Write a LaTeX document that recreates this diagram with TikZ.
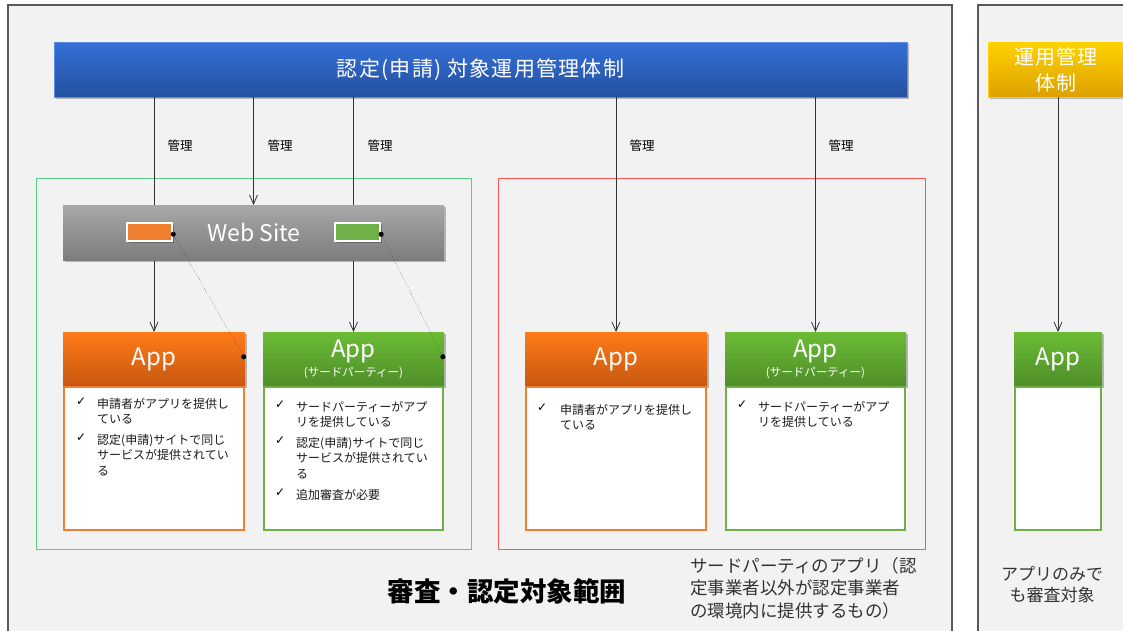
\documentclass[tikz,border=0pt]{standalone}
\usepackage{fontspec}
\setmainfont{Noto Sans CJK JP}
\newfontfamily\symfont{DejaVu Sans}
\newfontfamily\widefont[LetterSpace=6]{Noto Sans CJK JP}
\usetikzlibrary{arrows.meta,shadows}
\definecolor{panelbg}{HTML}{F2F2F2}
\definecolor{panelline}{HTML}{595959}
\definecolor{blueT}{HTML}{3470D8}
\definecolor{blueB}{HTML}{2450A0}
\definecolor{yellowT}{HTML}{FFD200}
\definecolor{yellowB}{HTML}{DDA000}
\definecolor{orangeT}{HTML}{FF7A18}
\definecolor{orangeB}{HTML}{C85810}
\definecolor{orangeL}{HTML}{F08030}
\definecolor{greenT}{HTML}{6CBC36}
\definecolor{greenB}{HTML}{4E8E28}
\definecolor{greenL}{HTML}{70B048}
\definecolor{grayT}{HTML}{A8A8A8}
\definecolor{grayB}{HTML}{7C7C7C}
\definecolor{frameG}{HTML}{5CCB88}
\definecolor{frameR}{HTML}{FF5555}
\definecolor{txt}{HTML}{1A1A1A}
\definecolor{subtxt}{HTML}{333333}
\tikzset{
  box/.style={rectangle, inner sep=0pt, outer sep=0pt},
  shad/.style={drop shadow={shadow xshift=1.5pt, shadow yshift=-1.5pt, opacity=0.25, fill=black}},
  bluebar/.style={box, shad, top color=blueT, bottom color=blueB, draw=blueT!80!white, text=white, font=\widefont\fontsize{21}{22}\selectfont},
  yellowbar/.style={box, shad, top color=yellowT, bottom color=yellowB, draw=yellowT},
  websitebox/.style={box, shad, top color=grayT, bottom color=grayB},
  tab/.style={box, draw=white, line width=2pt, minimum width=45pt, minimum height=18pt, shad},
  orangehead/.style={box, shad, top color=orangeT, bottom color=orangeB},
  greenhead/.style={box, shad, top color=greenT, bottom color=greenB},
  orangebody/.style={box, fill=white, draw=orangeL, line width=2pt},
  greenbody/.style={box, fill=white, draw=greenL, line width=2pt},
  apptitle/.style={text=white, inner sep=0pt, font=\fontsize{24}{26}\selectfont},
  appsub/.style={text=white, inner sep=0pt, font=\fontsize{11.5}{12}\selectfont},
  arr/.style={draw=black!80, line width=0.8pt, -{Straight Barb[length=9pt,width=8pt]}},
  lbl/.style={font=\fontsize{12.5}{14}\selectfont, text=black, inner sep=0pt},
  bul/.style={anchor=north west, inner sep=0pt, align=left, text=txt, font=\fontsize{12}{15.5}\selectfont},
  chk/.style={anchor=north west, inner sep=0pt, text=black, font=\symfont\fontsize{12}{15.5}\selectfont},
  link/.style={draw=black!75, line width=0.5pt, dotted, {Circle[length=5pt,black]}-{Circle[length=5pt,black]}},
}
\begin{document}
\begin{tikzpicture}[x=1pt,y=-1pt]
\clip (0,0) rectangle (1123,630);
\fill[white] (0,0) rectangle (1123,630);
% panels
\draw[fill=panelbg, draw=panelline, line width=1.5pt] (8,5) rectangle (952,660);
\draw[fill=panelbg, draw=panelline, line width=1.5pt] (978,5) rectangle (1160,660);
% frames
\draw[frameG, line width=0.8pt] (36,178) rectangle (471,549);
\draw[frameR, line width=0.8pt] (498,178) rectangle (925,549);
% top bars
\node[bluebar, minimum width=853pt, minimum height=55pt] (mgmt) at (480.5,69.5) {認定(申請) 対象運用管理体制};
\node[yellowbar, minimum width=140pt, minimum height=55pt] (ops) at (1058,69.5) {};
\node[text=white, align=center, inner sep=0pt, font=\widefont\fontsize{20}{26}\selectfont] (opstxt) at (1056,69.5) {運用管理\\体制};
% app headers
\node[orangehead, minimum width=182pt, minimum height=54pt] (appA) at (154,359) {};
\node[greenhead, minimum width=181pt, minimum height=54pt] (appB) at (353.5,359) {};
\node[orangehead, minimum width=182pt, minimum height=54pt] (appC) at (616,359) {};
\node[greenhead, minimum width=181pt, minimum height=54pt] (appD) at (815.5,359) {};
\node[greenhead, minimum width=88pt, minimum height=54pt] (appE) at (1058,359) {};
\node[apptitle] (tA) at (154,359) {App};
\node[apptitle] (tB) at (353.5,351) {App};
\node[appsub] (sB) at (353.5,373) {(サードパーティー)};
\node[apptitle] (tC) at (616,359) {App};
\node[apptitle] (tD) at (815.5,351) {App};
\node[appsub] (sD) at (815.5,373) {(サードパーティー)};
\node[apptitle] (tE) at (1058,359) {App};
% app bodies
\node[orangebody, minimum width=180pt, minimum height=143pt] (bA) at (154,458.5) {};
\node[greenbody, minimum width=179pt, minimum height=143pt] (bB) at (353.5,458.5) {};
\node[orangebody, minimum width=180pt, minimum height=143pt] (bC) at (616,458.5) {};
\node[greenbody, minimum width=179pt, minimum height=143pt] (bD) at (815.5,458.5) {};
\node[greenbody, minimum width=86pt, minimum height=143pt] (bE) at (1058,458.5) {};
% management lines
\draw[arr] (mgmt.south -| appA.north) -- (appA.north);
\draw[arr] (mgmt.south -| appB.north) -- (appB.north);
\draw[arr] (mgmt.south -| appC.north) -- (appC.north);
\draw[arr] (mgmt.south -| appD.north) -- (appD.north);
\draw[arr] (ops.south -| appE.north) -- (appE.north);
% website
\node[websitebox, minimum width=381pt, minimum height=55pt] (web) at (253.5,232.5) {};
\node[text=white, inner sep=0pt, font=\fontsize{23}{26}\selectfont] (webtxt) at (254,232) {Web Site};
\draw[arr] (mgmt.south -| web.north) -- (web.north);
\node[tab, fill=orangeL] (tabO) at (149.5,232) {};
\node[tab, fill=greenL] (tabG) at (357.5,232) {};
\draw[link] (tabO.east) -- (appA.east);
\draw[link] (tabG.east) -- (appB.east);
% labels
\node[lbl] (m1) at (180,146) {管理};
\node[lbl] (m2) at (280,146) {管理};
\node[lbl] (m3) at (380,146) {管理};
\node[lbl] (m4) at (642,146) {管理};
\node[lbl] (m5) at (841,146) {管理};
% bullets A
\node[chk] (cA1) at (76,398) {✓};
\node[bul] (pA1) at (97,398) {申請者がアプリを提供し\\ている};
\node[chk] (cA2) at (76,434) {✓};
\node[bul] (pA2) at (97,434) {認定(申請)サイトで同じ\\サービスが提供されてい\\る};
% bullets B
\node[chk] (cB1) at (275,401) {✓};
\node[bul] (pB1) at (296,401) {サードパーティーがアプ\\リを提供している};
\node[chk] (cB2) at (275,437) {✓};
\node[bul] (pB2) at (296,437) {認定(申請)サイトで同じ\\サービスが提供されてい\\る};
\node[chk] (cB3) at (275,489) {✓};
\node[bul] (pB3) at (296,489) {追加審査が必要};
% bullets C
\node[chk] (cC1) at (537,404) {✓};
\node[bul] (pC1) at (560,404) {申請者がアプリを提供し\\ている};
% bullets D
\node[chk] (cD1) at (737,401) {✓};
\node[bul] (pD1) at (758,401) {サードパーティーがアプ\\リを提供している};
% bottom texts
\node[inner sep=0pt, font=\bfseries\fontsize{26.5}{30}\selectfont, text=black] (scope) at (507,591) {審査・認定対象範囲};
\node[anchor=north west, inner sep=0pt, align=left, text=subtxt, font=\fontsize{17.5}{22.5}\selectfont] (third) at (690,557) {サードパーティのアプリ（認\\定事業者以外が認定事業者\\の環境内に提供するもの）};
\node[inner sep=0pt, align=center, text=subtxt, font=\fontsize{17}{21}\selectfont] (appsonly) at (1052,585) {アプリのみで\\も審査対象};
\end{tikzpicture}
\end{document}
